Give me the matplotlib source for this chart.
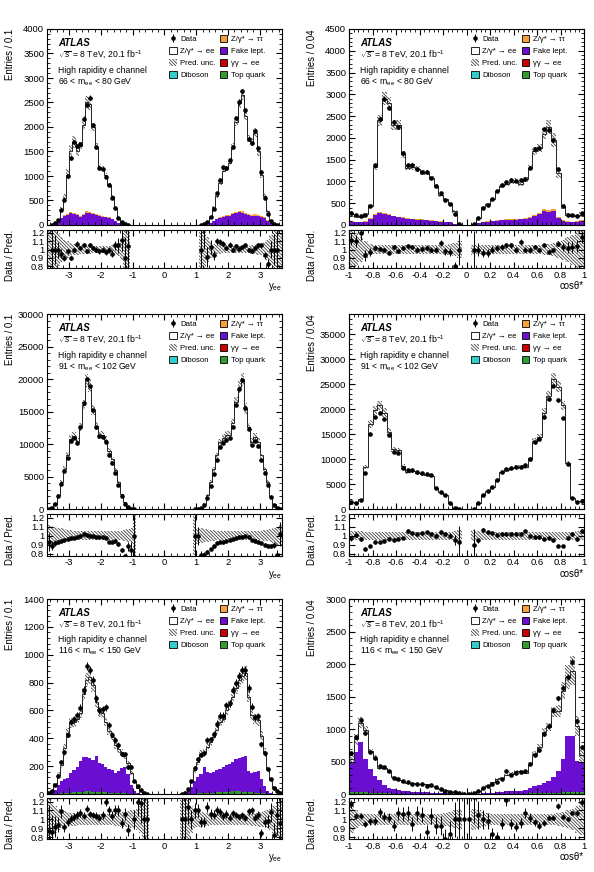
import numpy as np
import matplotlib
matplotlib.use("Agg")
import matplotlib.pyplot as plt
from matplotlib.patches import Patch
from matplotlib.ticker import MultipleLocator, AutoMinorLocator, FuncFormatter

plt.rcParams['font.family'] = ['Liberation Sans', 'DejaVu Sans']
plt.rcParams['mathtext.fontset'] = 'custom'
plt.rcParams['mathtext.rm'] = 'Liberation Sans'
plt.rcParams['mathtext.it'] = 'Liberation Sans:italic'
plt.rcParams['mathtext.bf'] = 'Liberation Sans:bold'
plt.rcParams['hatch.linewidth'] = 0.6

# ---------------- data ----------------
# y_ee binning: 74 bins of 0.1 in [-3.7, 3.7]; cos(theta*): 50 bins of 0.04 in [-1, 1]
y_edges = np.round(np.arange(-3.7, 3.71, 0.1), 2)
cos_edges = np.round(np.arange(-1.0, 1.001, 0.04), 2)

# --- 66 < m_ee < 80 GeV, y_ee ---
pred_y66 = [0, 8, 35, 110, 320, 560, 1030, 1520, 1700, 1500,
            1620, 2050, 2500, 2470, 2000, 1600, 1190, 1150, 1020, 820,
            590, 340, 140, 55, 15, 2, 0, 0, 0, 0] + [0] * 12 + [
            0, 0, 0, 0, 0, 0, 2, 15,
            60, 160, 360, 590, 850, 1100, 1150, 1260, 1600, 2100,
            2480, 2650, 2230, 1760, 1700, 1880, 1500, 1030, 590, 280,
            90, 30, 8, 0]
fake_y66 = [0, 2, 10, 60, 140, 180, 200, 240, 230, 200,
            170, 200, 250, 240, 220, 200, 180, 170, 160, 150,
            120, 80, 40, 15, 5, 1, 0, 0, 0, 0] + [0] * 12 + [
            0, 0, 0, 0, 0, 0, 1, 5,
            10, 40, 80, 120, 150, 170, 180, 190, 220, 240,
            260, 250, 230, 200, 180, 190, 180, 170, 140, 90,
            40, 10, 2, 0]
tau_y66 = [0, 0, 0, 5, 10, 15, 20, 25, 25, 20,
           20, 25, 30, 30, 25, 20, 15, 15, 12, 10,
           8, 5, 3, 1, 0, 0, 0, 0, 0, 0] + [0] * 12 + [
           0, 0, 0, 0, 0, 0, 0, 1,
           3, 5, 8, 10, 12, 15, 15, 18, 20, 25,
           30, 30, 25, 20, 20, 25, 25, 20, 15, 10,
           5, 0, 0, 0]
ratio_y66 = [1, 1, 1, 1.0, 0.95, 0.90, 0.98, 0.90, 1.00, 1.07,
             1.02, 1.06, 0.98, 1.05, 1.02, 1.0, 0.98, 1.0, 0.97, 1.0,
             0.95, 1.05, 1.05, 1.12, 0.9, 1.04, 1, 1, 1, 1] + [1] * 12 + [
             1, 1, 1, 1, 1, 1, 1.0, 1.3,
             0.91, 1.03, 0.93, 1.1, 1.09, 1.07, 1.02, 1.06, 1.0, 1.04,
             1.01, 1.03, 1.05, 1.0, 0.98, 1.02, 1.05, 1.05, 0.93, 0.83,
             1.0, 1.0, 1.0, 1.0]
unc_y66 = [1, 0.3, 0.25, 0.2, 0.15, 0.12, 0.1, 0.08, 0.07, 0.06,
           0.05, 0.05, 0.05, 0.05, 0.04, 0.04, 0.04, 0.04, 0.04, 0.04,
           0.05, 0.06, 0.08, 0.12, 1, 1, 0, 0, 0, 0] + [0] * 12 + [
           0, 0, 0, 0, 0, 0, 1, 1,
           0.15, 0.1, 0.07, 0.05, 0.05, 0.04, 0.04, 0.04, 0.04, 0.04,
           0.04, 0.04, 0.04, 0.04, 0.05, 0.05, 0.06, 0.07, 0.09, 0.12,
           0.18, 0.25, 1, 1]

# --- 66 < m_ee < 80 GeV, cos(theta*) ---
pred_c66 = [250, 200, 180, 250, 440, 1340, 2400, 2900, 2800, 2300,
            2300, 1620, 1320, 1340, 1280, 1210, 1200, 1080, 900, 680,
            590, 500, 310, 30, 0, 0, 20, 160, 410, 490,
            590, 770, 900, 950, 990, 1020, 950, 1050, 1320, 1700,
            1770, 2100, 2250, 1950, 1200, 430, 235, 215, 200, 235]
fake_c66 = [80, 70, 70, 80, 140, 230, 270, 260, 230, 200,
            180, 160, 140, 130, 120, 115, 110, 100, 90, 80,
            70, 60, 30, 5, 0, 0, 5, 50, 70, 80,
            90, 100, 110, 120, 120, 120, 130, 140, 160, 200,
            250, 330, 300, 330, 170, 100, 80, 70, 80, 100]
tau_c66 = [5, 5, 5, 8, 12, 20, 25, 25, 20, 18,
           15, 15, 15, 15, 15, 15, 14, 12, 10, 8,
           6, 5, 3, 1, 0, 0, 1, 5, 8, 10,
           12, 14, 15, 15, 15, 15, 16, 18, 20, 25,
           30, 35, 35, 40, 20, 10, 5, 5, 5, 5]
ratio_c66 = [1.12, 1.1, 1.2, 0.93, 0.97, 1.02, 1.01, 1.0, 0.96, 1.03,
             0.98, 1.02, 1.04, 1.03, 1.0, 1.01, 1.02, 1.0, 1.0, 1.08,
             0.98, 0.97, 0.80, 1.0, 1, 1, 1.0, 1.0, 0.96, 0.96,
             1.0, 1.02, 1.03, 1.05, 1.05, 1.0, 1.09, 1.0, 1.0, 1.03,
             1.0, 1.05, 0.97, 1.0, 1.07, 1.03, 1.02, 1.03, 1.04, 1.15]
unc_c66 = [0.25, 0.2, 0.15, 0.1, 0.07, 0.05, 0.05, 0.05, 0.05, 0.05,
           0.05, 0.05, 0.05, 0.05, 0.05, 0.05, 0.05, 0.05, 0.05, 0.05,
           0.06, 0.07, 0.08, 0.1, 0, 0, 0.06, 0.05, 0.05, 0.05,
           0.05, 0.05, 0.05, 0.05, 0.05, 0.05, 0.05, 0.05, 0.05, 0.05,
           0.05, 0.06, 0.07, 0.08, 0.1, 0.12, 0.15, 0.18, 0.22, 0.25]

# --- 91 < m_ee < 102 GeV, y_ee ---
pred_y91 = [100, 300, 900, 2200, 4200, 6200, 8300, 10800, 11300, 10400,
            12600, 16000, 19800, 19000, 15200, 12800, 11400, 11400, 10700, 9000,
            7700, 6000, 4200, 2400, 1100, 400, 100, 20, 0, 0] + [0] * 12 + [
            0, 0, 0, 0, 20, 100, 300, 900,
            2200, 4200, 6200, 8300, 10300, 11000, 11400, 11500, 13200, 16500,
            18800, 20000, 15500, 12600, 10400, 11200, 10400, 8300, 6200, 4200,
            2100, 800, 250, 60]
ratio_y91 = [0.93, 0.89, 0.92, 0.93, 0.94, 0.95, 0.96, 0.97, 0.97, 0.98,
             1.0, 1.02, 1.01, 1.0, 1.0, 0.99, 0.99, 0.98, 0.97, 0.93,
             0.93, 0.94, 0.91, 0.84, 0.77, 0.88, 0.84, 1.0, 1, 1] + [1] * 12 + [
             1, 1, 1, 1, 1.0, 1.0, 0.78, 0.79,
             0.82, 0.85, 0.88, 0.92, 0.93, 0.93, 0.94, 0.95, 0.96, 0.97,
             0.98, 0.99, 1.0, 0.98, 0.95, 0.94, 0.93, 0.92, 0.90, 0.89,
             0.89, 0.90, 0.79, 1.02]
unc_y91 = [0.12, 0.11, 0.1, 0.09, 0.08, 0.07, 0.06, 0.06, 0.05, 0.05,
           0.05, 0.05, 0.05, 0.05, 0.05, 0.05, 0.05, 0.05, 0.05, 0.05,
           0.05, 0.05, 0.05, 0.05, 0.06, 0.07, 0.08, 1, 0, 0] + [0] * 12 + [
           0, 0, 0, 0, 1, 0.09, 0.08, 0.07,
           0.07, 0.06, 0.06, 0.05, 0.05, 0.05, 0.05, 0.05, 0.05, 0.05,
           0.05, 0.05, 0.05, 0.05, 0.05, 0.05, 0.05, 0.05, 0.06, 0.06,
           0.07, 0.08, 0.1, 0.12]

# --- 91 < m_ee < 102 GeV, cos(theta*) ---
pred_c91 = [1450, 1350, 2000, 8500, 17000, 19800, 20800, 19300, 15500, 12000,
            11800, 8600, 7500, 7600, 7300, 7100, 6900, 6700, 4300, 3400,
            2850, 1300, 300, 30, 0, 0, 30, 1300, 2800, 3600,
            4400, 5900, 7400, 7900, 8200, 8400, 8400, 8500, 10000, 13600,
            14400, 19300, 22700, 26000, 24500, 20800, 9300, 2300, 1600, 1650]
ratio_c91 = [0.97, 1.01, 0.96, 0.85, 0.89, 0.93, 0.93, 0.94, 0.96, 0.95,
             0.96, 0.97, 1.05, 1.03, 1.02, 1.03, 1.04, 1.02, 1.0, 1.04,
             1.02, 1.0, 0.95, 0.93, 1, 1, 0.9, 0.95, 1.06, 1.04,
             1.03, 1.01, 1.02, 1.02, 1.02, 1.02, 1.02, 1.05, 1.0, 0.99,
             0.98, 0.96, 0.97, 0.95, 0.89, 0.88, 0.97, 1.02, 0.96, 1.05]
unc_c91 = [0.05, 0.05, 0.05, 0.045, 0.045, 0.045, 0.045, 0.045, 0.045, 0.045,
           0.045, 0.045, 0.045, 0.045, 0.045, 0.045, 0.045, 0.045, 0.045, 0.045,
           0.045, 0.045, 0.05, 0.06, 0, 0, 0.06, 0.05, 0.045, 0.045,
           0.045, 0.045, 0.045, 0.045, 0.045, 0.045, 0.045, 0.045, 0.045, 0.045,
           0.045, 0.045, 0.045, 0.045, 0.045, 0.045, 0.045, 0.045, 0.05, 0.05]

# --- 116 < m_ee < 150 GeV, y_ee ---
pred_y116 = [10, 25, 70, 140, 210, 330, 440, 510, 520, 540,
             580, 720, 820, 840, 780, 660, 590, 580, 520, 450,
             410, 350, 320, 300, 270, 220, 150, 90, 45, 25,
             8, 2] + [0] * 10 + [2, 8, 30, 90, 170, 230, 290, 300,
             340, 370, 410, 460, 520, 540, 600, 640, 700, 760,
             820, 850, 870, 700, 570, 540, 530, 420, 300, 180,
             100, 50, 20, 8]
fake_y116 = [5, 15, 30, 60, 90, 100, 110, 140, 160, 180,
             220, 250, 245, 240, 230, 255, 210, 200, 180, 170,
             160, 140, 160, 180, 190, 140, 60, 20, 5, 0,
             0, 0] + [0] * 10 + [0, 5, 20, 50, 90, 120, 140, 190,
             150, 140, 150, 160, 170, 180, 190, 200, 210, 230,
             240, 250, 260, 150, 140, 150, 160, 100, 50, 20,
             5, 0, 0, 0]
top_y116 = [0, 0, 1, 2, 4, 6, 8, 10, 12, 14,
            15, 16, 18, 18, 16, 15, 14, 12, 11, 10,
            9, 8, 6, 5, 4, 3, 2, 1, 0, 0,
            0, 0] + [0] * 10 + [0, 0, 1, 2, 3, 4, 5, 6,
            8, 9, 10, 11, 12, 14, 15, 16, 18, 18,
            18, 16, 15, 14, 12, 10, 8, 6, 4, 2,
            1, 0, 0, 0]
ratio_y116 = [0.87, 0.86, 0.92, 0.94, 1.09, 0.91, 0.97, 1.01, 1.03, 1.05,
              1.07, 1.04, 1.12, 1.06, 1.05, 1.04, 1.02, 1.05, 1.2, 1.1,
              1.04, 1.11, 1.1, 0.96, 1.06, 0.88, 1.3, 1.0, 1.2, 1.18,
              1.0, 1.0] + [1] * 10 + [1.0, 1.0, 1.14, 1.0, 1.1, 1.1, 0.97, 0.97,
              1.14, 1.06, 1.05, 1.1, 1.08, 1.04, 1.06, 1.02, 1.07, 1.05,
              1.03, 1.05, 1.02, 1.09, 1.1, 1.02, 1.05, 0.85, 0.97, 0.98,
              1.08, 0.83, 1.05, 0.96]
unc_y116 = [1, 0.2, 0.15, 0.12, 0.1, 0.09, 0.08, 0.07, 0.07, 0.06,
            0.06, 0.06, 0.06, 0.06, 0.06, 0.06, 0.06, 0.06, 0.06, 0.06,
            0.06, 0.07, 0.07, 0.08, 0.08, 0.09, 0.1, 0.1, 0.12, 0.15,
            1, 1] + [0] * 10 + [1, 1, 0.3, 0.15, 0.1, 0.09, 0.08, 0.07,
            0.07, 0.06, 0.06, 0.06, 0.06, 0.06, 0.06, 0.06, 0.06, 0.06,
            0.06, 0.06, 0.06, 0.06, 0.07, 0.07, 0.08, 0.08, 0.09, 0.1,
            0.12, 0.15, 0.2, 1]

# --- 116 < m_ee < 150 GeV, cos(theta*) ---
pred_c116 = [540, 840, 1100, 980, 660, 560, 400, 400, 340, 260,
             210, 190, 170, 170, 150, 150, 150, 130, 110, 80,
             60, 40, 25, 10, 2, 2, 15, 45, 90, 130,
             180, 230, 240, 290, 315, 350, 350, 330, 460, 620,
             730, 960, 1030, 1260, 1280, 1590, 1800, 1900, 1050, 600]
fake_c116 = [470, 620, 770, 520, 370, 260, 200, 130, 90, 70,
             50, 40, 35, 30, 30, 25, 25, 20, 15, 10,
             8, 5, 3, 1, 0, 0, 2, 5, 10, 15,
             20, 25, 30, 35, 40, 40, 45, 60, 80, 110,
             130, 150, 180, 240, 330, 520, 870, 870, 480, 460]
top_c116 = [25, 30, 30, 25, 20, 15, 12, 10, 8, 7,
            6, 5, 5, 4, 4, 4, 3, 3, 2, 2,
            1, 1, 0, 0, 0, 0, 0, 1, 1, 2,
            2, 3, 3, 4, 4, 5, 5, 6, 8, 10,
            12, 14, 16, 20, 22, 25, 30, 30, 25, 25]
ratio_c116 = [1.17, 1.04, 1.04, 0.95, 0.98, 0.98, 1.08, 1.03, 1.02, 0.93,
              1.07, 1.06, 1.07, 0.95, 1.07, 1.05, 0.86, 1.04, 0.93, 0.93,
              0.78, 0.84, 1.0, 1.0, 1, 1, 1.25, 1.05, 1.0, 0.98,
              0.84, 0.8, 0.95, 1.22, 0.95, 0.92, 0.96, 1.07, 1.02, 0.97,
              0.93, 0.96, 1.02, 1.02, 1.15, 1.03, 1.0, 1.07, 1.07, 1.2]
unc_c116 = [0.15, 0.1, 0.07, 0.06, 0.06, 0.06, 0.06, 0.06, 0.06, 0.06,
            0.06, 0.06, 0.06, 0.06, 0.06, 0.06, 0.06, 0.06, 0.06, 0.06,
            0.07, 0.08, 0.1, 0.12, 0, 0, 0.12, 0.1, 0.08, 0.07,
            0.06, 0.06, 0.06, 0.06, 0.06, 0.06, 0.06, 0.06, 0.06, 0.06,
            0.06, 0.06, 0.06, 0.06, 0.07, 0.08, 0.1, 0.12, 0.15, 0.18]

mass_labels = [r'66 < m$_{\mathrm{ee}}$ < 80 GeV',
               r'91 < m$_{\mathrm{ee}}$ < 102 GeV',
               r'116 < m$_{\mathrm{ee}}$ < 150 GeV']

# ---------------- style ----------------
HATCH = '\\' * 10
C_TT = '#f7a13c'
C_FAKE = '#6a0fd2'
C_GG = '#cc0000'
C_DIB = '#33cccc'
C_TOP = '#339933'
BAND = '0.25'

W, H = 594, 872
fig = plt.figure(figsize=(W / 100, H / 100), dpi=100)


def px_axes(x0, y0, x1, y1):
    return fig.add_axes([x0 / W, 1 - y1 / H, (x1 - x0) / W, (y1 - y0) / H])


def fmt_tick(v, p):
    return f'{round(v, 2) + 0:g}'


def style(ax, xmajor, ymajor=None):
    ax.tick_params(which='both', direction='in', top=True, right=True,
                   labelsize=6.8, pad=2)
    ax.tick_params(which='major', length=4)
    ax.tick_params(which='minor', length=2)
    ax.xaxis.set_major_locator(MultipleLocator(xmajor))
    ax.xaxis.set_minor_locator(AutoMinorLocator(5))
    if ymajor is not None:
        ax.yaxis.set_major_locator(MultipleLocator(ymajor))
        ax.yaxis.set_minor_locator(AutoMinorLocator(5))
    for s in ax.spines.values():
        s.set_linewidth(0.8)


def panel(ax, axr, edges, pred, ratio, unc, layers, ymax, ystep,
          xmajor, xlabel, entries, mass):
    pred = np.asarray(pred, float)
    ratio = np.asarray(ratio, float)
    unc = np.asarray(unc, float)
    assert len(pred) == len(edges) - 1 == len(ratio) == len(unc)
    centers = 0.5 * (edges[1:] + edges[:-1])
    width = np.diff(edges)

    # stacked prediction: Z->ee white on top of the backgrounds
    ax.stairs(pred, edges, fill=True, color='white', zorder=1)
    cum = np.zeros_like(pred)
    stack = []
    for vals, col in layers:
        cum = cum + np.asarray(vals, float)
        stack.append((cum.copy(), col))
    for vals, col in reversed(stack):
        ax.stairs(vals, edges, fill=True, color=col, lw=0, zorder=1.2)
    ax.stairs(pred, edges, color='#222222', lw=0.7, zorder=1.5)

    band = unc > 0
    ax.bar(centers[band], 2 * unc[band] * pred[band],
           bottom=pred[band] * (1 - unc[band]), width=width[band],
           fill=False, hatch=HATCH, lw=0, edgecolor=BAND, zorder=1.6)

    data = ratio * pred
    m = pred > 0
    cont = ax.errorbar(centers[m], data[m], yerr=np.sqrt(data[m]), fmt='o',
                       ms=2.3, color='k', elinewidth=0.7, capsize=0, zorder=3)
    ax.set_xlim(edges[0], edges[-1])
    ax.set_ylim(0, ymax)
    style(ax, xmajor, ystep)
    ax.tick_params(labelbottom=False)
    ax.set_ylabel(entries, fontsize=6.9, loc='top')
    ax.yaxis.set_label_coords(-0.136, 1.0)

    # ratio panel
    axr.bar(centers[band], 2 * unc[band], bottom=1 - unc[band],
            width=width[band], fill=False, hatch=HATCH, lw=0,
            edgecolor=BAND, zorder=1)
    rerr = ratio[m] / np.sqrt(np.maximum(data[m], 1.0))
    axr.errorbar(centers[m], ratio[m], yerr=rerr, fmt='o', ms=2.3, color='k',
                 elinewidth=0.7, capsize=0, zorder=3)
    axr.set_xlim(edges[0], edges[-1])
    axr.set_ylim(0.78, 1.24)
    style(axr, xmajor)
    axr.set_yticks([0.8, 0.9, 1.0, 1.1, 1.2],
                   labels=['0.8', '0.9', '1', '1.1', '1.2'])
    axr.xaxis.set_major_formatter(FuncFormatter(fmt_tick))
    axr.set_ylabel('Data / Pred.', fontsize=6.9, loc='top')
    axr.yaxis.set_label_coords(-0.136, 1.0)
    axr.set_xlabel(xlabel, fontsize=6.9, loc='right', labelpad=1)

    # labels
    tr = ax.transAxes
    ax.text(0.047, 0.93, 'ATLAS', transform=tr, fontsize=7, fontweight='bold',
            style='italic', va='center')
    ax.text(0.047, 0.865, r'$\sqrt{s}$ = 8 TeV, 20.1 fb$^{-1}$', transform=tr,
            fontsize=6.2, va='center')
    ax.text(0.047, 0.79, 'High rapidity e channel', transform=tr,
            fontsize=6.2, va='center')
    ax.text(0.047, 0.73, mass, transform=tr, fontsize=6.2, va='center')

    handles = [cont,
               Patch(facecolor='white', edgecolor='k', lw=0.6),
               Patch(facecolor='none', edgecolor=BAND, hatch=HATCH, lw=0),
               Patch(facecolor=C_DIB, edgecolor='k', lw=0.6),
               Patch(facecolor=C_TT, edgecolor='k', lw=0.6),
               Patch(facecolor=C_FAKE, edgecolor='k', lw=0.6),
               Patch(facecolor=C_GG, edgecolor='k', lw=0.6),
               Patch(facecolor=C_TOP, edgecolor='k', lw=0.6)]
    labels = ['Data', 'Z/γ* → ee', 'Pred. unc.', 'Diboson',
              'Z/γ* → ττ', 'Fake lept.', 'γγ → ee', 'Top quark']
    ax.legend(handles, labels, ncol=2, loc='upper left',
              bbox_to_anchor=(0.52, 0.968), frameon=False, fontsize=5.6,
              handlelength=0.95, handleheight=0.95, handletextpad=0.45,
              columnspacing=0.6, labelspacing=0.5, borderaxespad=0,
              borderpad=0)


rows = [(29, 225, 229.5, 268), (314, 509.5, 514, 555.5), (599, 794, 798, 839)]
cols = [(47, 282), (349, 584)]

zeros_y = [0] * 74
zeros_c = [0] * 50

specs = [
    # (row, col, edges, pred, ratio, unc, layers, ymax, ystep, xmajor, xlabel, entries)
    (0, 0, y_edges, pred_y66, ratio_y66, unc_y66,
     [(fake_y66, C_FAKE), (tau_y66, C_TT)], 4000, 500, 1,
     r'y$_{\mathrm{ee}}$', 'Entries / 0.1'),
    (0, 1, cos_edges, pred_c66, ratio_c66, unc_c66,
     [(fake_c66, C_FAKE), (tau_c66, C_TT)], 4500, 500, 0.2,
     'cosθ*', 'Entries / 0.04'),
    (1, 0, y_edges, pred_y91, ratio_y91, unc_y91,
     [(zeros_y, C_FAKE)], 30000, 5000, 1,
     r'y$_{\mathrm{ee}}$', 'Entries / 0.1'),
    (1, 1, cos_edges, pred_c91, ratio_c91, unc_c91,
     [(zeros_c, C_FAKE)], 39000, 5000, 0.2,
     'cosθ*', 'Entries / 0.04'),
    (2, 0, y_edges, pred_y116, ratio_y116, unc_y116,
     [(top_y116, C_TOP), (fake_y116, C_FAKE)], 1400, 200, 1,
     r'y$_{\mathrm{ee}}$', 'Entries / 0.1'),
    (2, 1, cos_edges, pred_c116, ratio_c116, unc_c116,
     [(top_c116, C_TOP), (fake_c116, C_FAKE)], 3000, 500, 0.2,
     'cosθ*', 'Entries / 0.04'),
]

for (r, c, edges, pred, ratio, unc, layers, ymax, ystep, xmajor,
     xlabel, entries) in specs:
    t, b, rt, rb = rows[r]
    x0, x1 = cols[c]
    ax = px_axes(x0, t, x1, b)
    axr = px_axes(x0, rt, x1, rb)
    panel(ax, axr, edges, pred, ratio, unc, layers, ymax, ystep, xmajor,
          xlabel, entries, mass_labels[r])

fig.savefig('out.png', dpi=100)
